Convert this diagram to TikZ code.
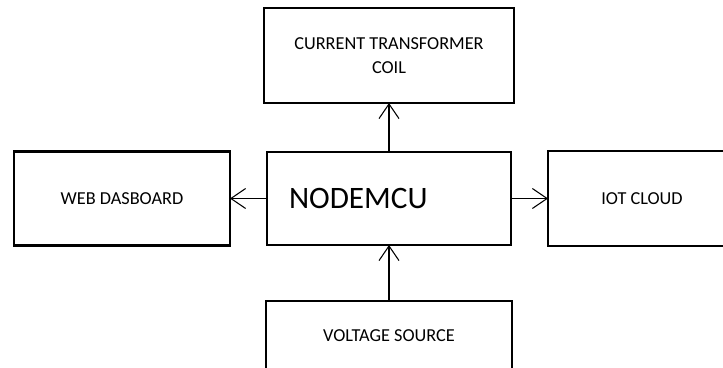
\documentclass[tikz,border=0pt]{standalone}
\usepackage{fontspec}
\setmainfont{Carlito}
\usetikzlibrary{arrows.meta, positioning}

\begin{document}
\begin{tikzpicture}[
    block/.style={rectangle, draw, line width=2.2pt, outer sep=0pt, align=center, font=\fontsize{13.7}{18}\selectfont},
    link/.style={draw, -{Straight Barb[length=11pt, width=15pt]}, line width=0.8pt}
]

% Page Frame
\useasboundingbox (-291.75pt,-126.375pt) rectangle (250.5pt,148.875pt);

% Blocks
\node[block, minimum width=183pt, minimum height=69.75pt, text width=150pt, inner xsep=16.5pt, align=left, font=\fontsize{23.4}{28}\selectfont] (mcu) {NODEMCU};
\node[block, minimum width=187.5pt, minimum height=71.25pt, above=36.75pt of mcu] (ct) {CURRENT TRANSFORMER\\COIL};
\node[block, minimum width=162pt, minimum height=70.5pt, left=27.75pt of mcu] (web) {WEB DASBOARD};
\node[block, minimum width=141pt, minimum height=71.25pt, right=27.75pt of mcu] (iot) {IOT CLOUD};
\node[block, minimum width=184.5pt, minimum height=52.5pt, below=42pt of mcu] (volt) {VOLTAGE SOURCE};

% Connections
\draw[link] (mcu.north) -- (ct.south);
\draw[link] (mcu.west) -- (web.east);
\draw[link] (mcu.east) -- (iot.west);
\draw[link] (volt.north) -- (mcu.south);

\end{tikzpicture}
\end{document}
